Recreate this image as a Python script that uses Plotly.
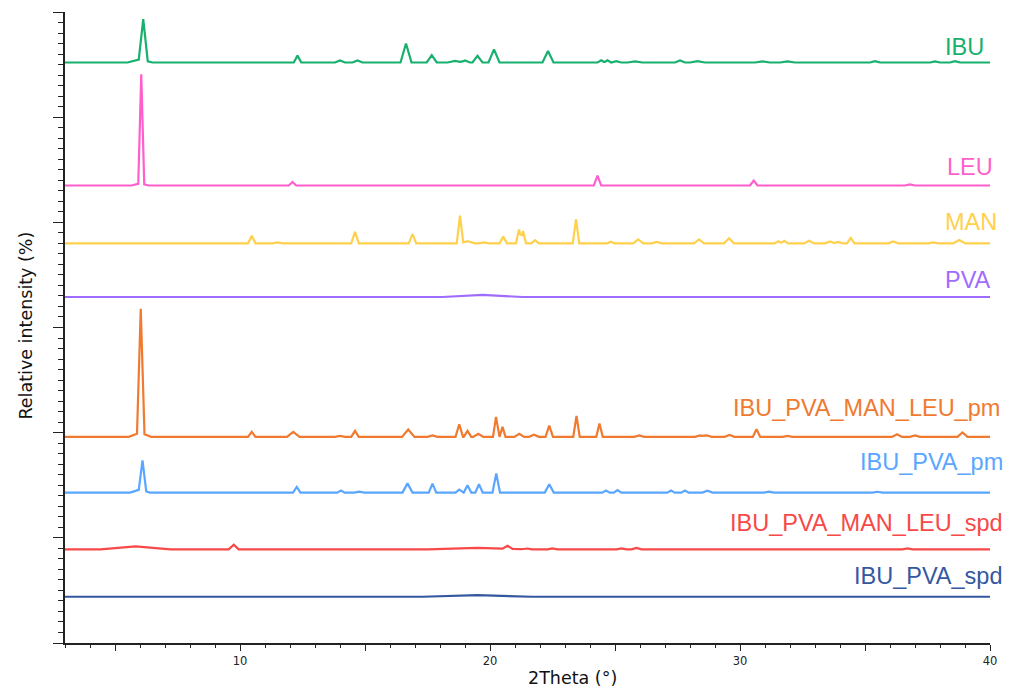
import plotly.graph_objects as go

# ---------------- data ----------------
series_names = ["IBU", "LEU", "MAN", "PVA", "IBU_PVA_MAN_LEU_pm",
                "IBU_PVA_pm", "IBU_PVA_MAN_LEU_spd", "IBU_PVA_spd"]

# vertical stacking offset of each pattern (relative intensity units)
offsets = [552, 435, 380, 329, 196, 143, 89, 44]

two_theta_min = 3
two_theta_max = 40
x_tick_vals = [5, 10, 15, 20, 25, 30, 35, 40]
x_tick_text = ["", "10", "", "20", "", "30", "", "40"]

# peak tables: (2theta centre, height, half width at base)
ibu_peaks = [(6.0, 3, 0.5), (6.13, 39, 0.18), (12.3, 6.5, 0.15), (14.0, 2, 0.2),
             (14.7, 2, 0.2), (16.64, 18, 0.22), (17.67, 7, 0.2), (18.6, 1.5, 0.3),
             (19.0, 2, 0.2), (19.5, 6.4, 0.2), (20.16, 12.5, 0.22), (22.32, 11, 0.22),
             (24.45, 2, 0.15), (24.7, 2, 0.15), (25.05, 1.2, 0.2), (25.8, 1, 0.3),
             (27.6, 2, 0.2), (28.3, 1.2, 0.3), (30.9, 1, 0.3), (31.9, 1, 0.3),
             (35.4, 1.2, 0.2), (37.8, 1, 0.2), (38.6, 1.2, 0.2)]
leu_peaks = [(6.0, 2, 0.35), (6.05, 104, 0.12), (12.1, 3.3, 0.15), (24.3, 9.5, 0.15),
             (30.55, 4.8, 0.15), (36.8, 1, 0.2)]
man_peaks = [(10.47, 7.2, 0.15), (11.5, 1, 0.2), (14.6, 11, 0.15), (16.9, 8.8, 0.15),
             (18.8, 26.3, 0.13), (19.1, 2, 0.3), (19.76, 1, 0.2), (20.53, 6.4, 0.15),
             (21.16, 13.3, 0.12), (21.32, 11.7, 0.12), (21.8, 3.1, 0.15), (23.44, 22.8, 0.13),
             (24.83, 1.6, 0.15), (25.93, 3.8, 0.2), (26.67, 1.4, 0.2), (28.36, 3.8, 0.2),
             (29.56, 4.8, 0.2), (31.53, 1.9, 0.15), (31.77, 2.4, 0.15), (32.76, 2.4, 0.2),
             (33.6, 1.9, 0.2), (33.92, 1.4, 0.2), (34.43, 5.2, 0.15), (36.13, 1.9, 0.2),
             (37.73, 1, 0.2), (38.77, 3.1, 0.25)]
pva_peaks = [(19.7, 2, 1.6)]
ibu_pva_man_leu_pm_peaks = [(6.0, 4, 0.45), (6.03, 118, 0.15), (10.47, 4.8, 0.15),
             (12.13, 4.8, 0.25), (14.0, 1, 0.2), (14.6, 5.7, 0.15), (16.73, 7, 0.25),
             (17.7, 1.4, 0.2), (18.77, 12, 0.15), (19.1, 5.7, 0.15), (19.53, 3, 0.2),
             (20.24, 19, 0.12), (20.5, 9.5, 0.12), (21.17, 3, 0.2), (21.76, 2, 0.2),
             (22.37, 10.7, 0.15), (23.46, 19.9, 0.13), (24.38, 12.8, 0.13), (25.97, 1.4, 0.2),
             (28.4, 1.4, 0.2), (28.67, 1.4, 0.2), (29.58, 1.9, 0.2), (30.66, 7.3, 0.15),
             (31.9, 1, 0.2), (36.28, 2.4, 0.2), (37.0, 1.4, 0.2), (38.9, 4.2, 0.2)]
ibu_pva_pm_peaks = [(6.0, 3, 0.4), (6.1, 28.5, 0.15), (12.27, 5.4, 0.15), (14.04, 1.9, 0.15),
             (14.77, 1, 0.2), (16.7, 8.8, 0.2), (17.7, 8.6, 0.15), (18.77, 2.8, 0.15),
             (19.1, 7, 0.15), (19.56, 7.9, 0.15), (20.25, 18.3, 0.15), (22.37, 7.9, 0.18),
             (24.64, 1.9, 0.15), (25.1, 2.4, 0.15), (27.24, 1.9, 0.15), (27.8, 1.9, 0.15),
             (28.7, 1.9, 0.2), (31.16, 1, 0.2), (35.5, 0.8, 0.2)]
ibu_pva_man_leu_spd_peaks = [(5.82, 2.9, 1.4), (9.75, 4.5, 0.2), (19.5, 1.5, 2.0),
             (20.7, 2.9, 0.2), (21.47, 1, 0.2), (22.5, 1, 0.2), (25.26, 1, 0.2),
             (25.86, 1.4, 0.2), (36.7, 1, 0.2)]
ibu_pva_spd_peaks = [(19.5, 1.5, 2.2)]

peak_tables = [ibu_peaks, leu_peaks, man_peaks, pva_peaks, ibu_pva_man_leu_pm_peaks,
               ibu_pva_pm_peaks, ibu_pva_man_leu_spd_peaks, ibu_pva_spd_peaks]

# ---------------- styles / layout ----------------
colors = ["#17b06c", "#ff5fcc", "#ffd04c", "#a06cff", "#f07a30",
          "#5aa6ff", "#f84848", "#34589f"]
label_gap = [15, 18, 20, 16, 27, 29, 25, 20]
label_left = [38.12, 38.2, 38.12, 38.12, 29.64, 34.72, 29.52, 34.48]
axis_font = "DejaVu Sans"


def profile(peaks, base):
    """Piecewise-linear pattern through the vertices of each peak."""
    xs = {two_theta_min, two_theta_max}
    for c, h, w in peaks:
        xs.update([c - w, c, c + w])
    xs = sorted(x for x in xs if two_theta_min <= x <= two_theta_max)
    ys = []
    for x in xs:
        y = base
        for c, h, w in peaks:
            d = abs(x - c)
            if d < w:
                y += h * (1 - d / w)
        ys.append(y)
    return xs, ys


fig = go.Figure()
for name, peaks, base, col in zip(series_names, peak_tables, offsets, colors):
    xs, ys = profile(peaks, base)
    fig.add_trace(go.Scatter(x=xs, y=ys, mode="lines", name=name,
                             line=dict(color=col, width=2.2), showlegend=False))

for name, base, col, gap, lx in zip(series_names, offsets, colors, label_gap, label_left):
    fig.add_annotation(x=lx, y=base + gap, xref="x", yref="y", text=name,
                       showarrow=False, xanchor="left", yanchor="middle",
                       font=dict(family="Arial", size=23.5, color=col))

fig.add_annotation(x=-0.0432, y=0.5, xref="paper", yref="paper", text="Relative intensity (%)",
                   textangle=-90, showarrow=False, xanchor="center", yanchor="middle",
                   yshift=2, font=dict(family=axis_font, size=17.5, color="#111"))
fig.add_annotation(x=0.549, y=-0.055, xref="paper", yref="paper", text="2Theta (°)",
                   showarrow=False, xanchor="center", yanchor="middle",
                   font=dict(family=axis_font, size=17.5, color="#111"))

fig.update_xaxes(range=[two_theta_min, two_theta_max], showgrid=False, zeroline=False,
                 showline=True, linecolor="#222", linewidth=1.5,
                 ticks="outside", tickvals=x_tick_vals, ticktext=x_tick_text,
                 ticklen=6, tickwidth=1.2, tickcolor="#222", ticklabelstandoff=0,
                 tickfont=dict(family=axis_font, size=11.5, color="#222"),
                 minor=dict(dtick=1, tick0=0, ticks="outside", ticklen=3,
                            tickwidth=1, tickcolor="#222"))
fig.update_yaxes(range=[0, 600], showgrid=False, zeroline=False, showline=True,
                 linecolor="#222", linewidth=1.5, ticks="outside", dtick=100, tick0=0,
                 ticklen=10, tickwidth=1.2, tickcolor="#222", showticklabels=False,
                 minor=dict(dtick=10, ticks="outside", ticklen=5, tickwidth=1,
                            tickcolor="#222"))

fig.update_layout(width=1014, height=693, paper_bgcolor="white", plot_bgcolor="white",
                  margin=dict(l=65, r=24, t=12, b=50))

fig.write_html("out.html")
